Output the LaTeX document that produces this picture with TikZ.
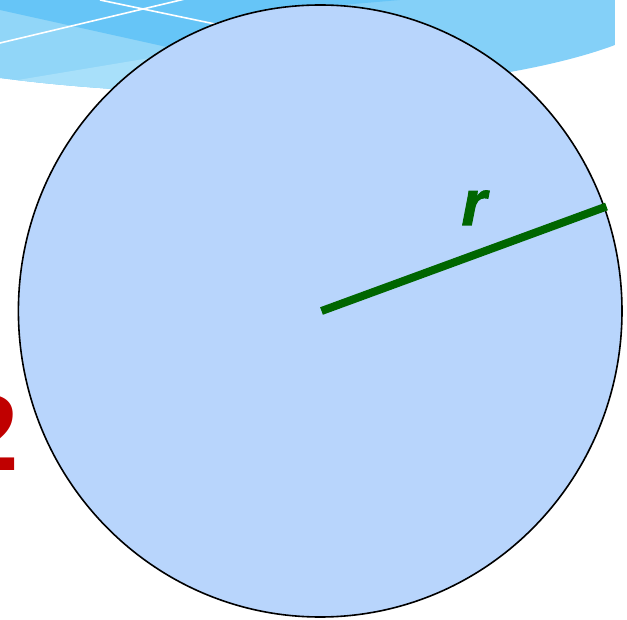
\documentclass[tikz,border=0pt]{standalone}
\usepackage{fontspec}
\newfontfamily\labelfont{Liberation Sans Bold Italic}[FakeBold=1.6]
\newfontfamily\numfont{Liberation Serif Bold}
\definecolor{circfill}{RGB}{184,213,252}
\definecolor{swA}{RGB}{132,208,248}
\definecolor{swB}{RGB}{145,214,248}
\definecolor{swC}{RGB}{168,224,250}
\definecolor{swD}{RGB}{102,197,247}
\definecolor{radgreen}{RGB}{0,102,0}
\definecolor{numred}{RGB}{192,0,0}
\tikzset{
  swline/.style={white, line width=1.6pt},
  disc/.style={fill=circfill, draw=black, line width=1.6pt},
  radline/.style={radgreen, line width=8pt},
  rlabel/.style={font=\labelfont\fontsize{64}{64}\selectfont, text=radgreen, anchor=base, inner sep=0pt},
  numlabel/.style={font=\numfont\fontsize{114}{114}\selectfont, text=numred, anchor=base east, inner sep=0pt}
}
\begin{document}
\begin{tikzpicture}[x=1pt,y=-1pt]
\useasboundingbox (0,0) rectangle (627,620);
\clip (0,0) rectangle (627,620);
% background swoosh
\begin{scope}
  \clip (0,0) -- (615,0) -- (615,45) .. controls (500,88) and (250,110) .. (0,78) -- cycle;
  \fill[swA] (0,0) rectangle (615,130);
  \fill[swB] (0,0) rectangle (180,130);
  \fill[swC] (15,80.5) -- (150,58) -- (230,140) -- (100,130) -- cycle;
  \fill[swD] (0,0) -- (0,10) -- (167,47) -- (260,60) -- (330,6) -- (400,0) -- cycle;
  \draw[swline] (0,43) -- (185,-1);
  \draw[swline] (100,0) -- (260,33.4);
\end{scope}
% red number partly visible
\node[numlabel] (two) at (20,470) {2};
% circle
\draw[disc] (320.2,311) ellipse [x radius=301.8pt, y radius=306pt];
% radius
\coordinate (c) at (321.5,311);
\coordinate (e) at (606.5,206.5);
\draw[radline] (c) -- (e);
\node[rlabel] (rlab) at (474,225) {r};
\end{tikzpicture}
\end{document}
